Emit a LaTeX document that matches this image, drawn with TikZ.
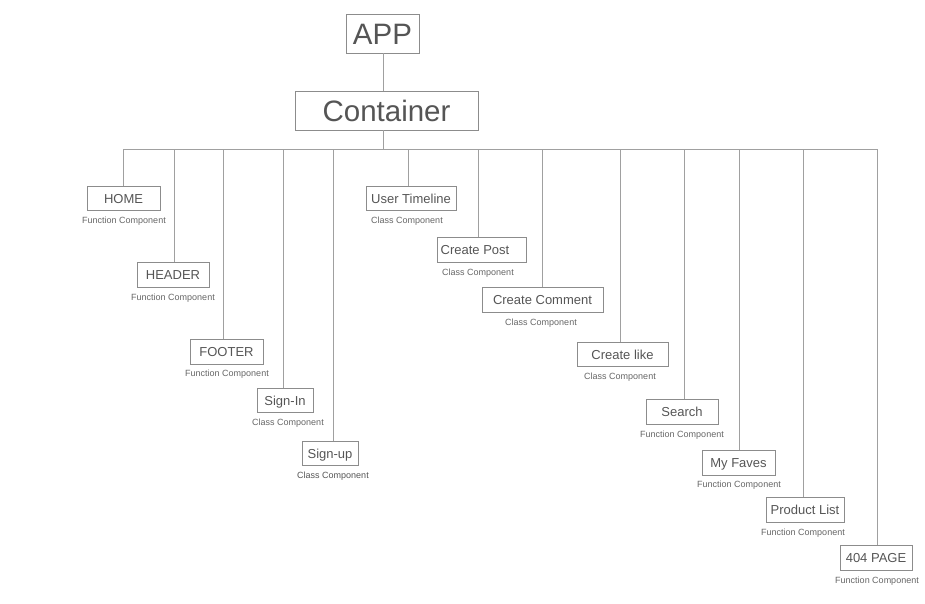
\documentclass[tikz,border=0pt]{standalone}
\usepackage{fontspec}
\setmainfont{Liberation Sans}
\definecolor{txt}{HTML}{555555}
\definecolor{txtb}{HTML}{666666}
\definecolor{boxc}{HTML}{8C8C8C}
\definecolor{linec}{HTML}{A0A0A0}
\begin{document}
\begin{tikzpicture}[x=1pt,y=-1pt,
  comp/.style={draw=boxc, line width=0.8pt, text=txt, font=\fontsize{13}{15}\selectfont, inner sep=0pt, minimum height=24.5pt, text height=9.4pt, text depth=0pt},
  big/.style={draw=boxc, line width=0.8pt, text=txt, font=\fontsize{29.5}{32}\selectfont, inner sep=0pt, minimum height=39pt, text height=21.2pt, text depth=0pt},
  lbl/.style={text=txtb, font=\fontsize{9}{10}\selectfont, inner sep=0pt},
  wire/.style={draw=linec, line width=0.9pt}]
\useasboundingbox (0,0) rectangle (925,604);

\node[big, minimum width=73pt] (app) at (382.5,33.5) {APP};
\node[big, minimum width=183pt] (container) at (386.5,110.5) {Container};
\coordinate (bus) at (383,149.5);

\node[comp, minimum width=73pt] (home) at (123.5,198.5) {HOME};
\node[comp, minimum width=72pt] (header) at (173,275) {HEADER};
\node[comp, minimum width=73pt] (footer) at (226.5,352) {FOOTER};
\node[comp, minimum width=56pt] (signin) at (285,400.5) {Sign-In};
\node[comp, minimum width=56pt] (signup) at (330,453.5) {Sign-up};
\node[comp, minimum width=90pt] (timeline) at (411,198.5) {User Timeline};
\node[comp, minimum width=89pt] (post) at (481.5,250) {Create Post\kern13pt};
\node[comp, minimum width=121pt] (comment) at (542.5,300) {Create Comment};
\node[comp, minimum width=91pt] (like) at (622.5,354.5) {Create like};
\node[comp, minimum width=72pt] (search) at (682,412) {Search};
\node[comp, minimum width=73pt] (faves) at (738.5,463) {My Faves};
\node[comp, minimum width=78pt] (plist) at (805,510) {Product List};
\node[comp, minimum width=72pt] (p404) at (876,558) {404 PAGE};

\node[lbl] (homel) at (124,221) {Function Component};
\node[lbl] (headerl) at (173,298) {Function Component};
\node[lbl] (footerl) at (227,374) {Function Component};
\node[lbl] (signinl) at (288,423) {Class Component};
\node[lbl, text=txt] (signupl) at (333,476) {Class Component};
\node[lbl] (timelinel) at (407,221) {Class Component};
\node[lbl] (postl) at (478,273) {Class Component};
\node[lbl] (commentl) at (541,323) {Class Component};
\node[lbl] (likel) at (620,377) {Class Component};
\node[lbl] (searchl) at (682,435) {Function Component};
\node[lbl] (favesl) at (739,485) {Function Component};
\node[lbl] (plistl) at (803,533) {Function Component};
\node[lbl] (p404l) at (877,581) {Function Component};

\draw[wire] (app.south -| bus) -- (container.north -| bus);
\draw[wire] (container.south -| bus) -- (bus);
\draw[wire] ([xshift=-0.5pt]home.north |- bus) -- ([xshift=1pt]p404.north |- bus);
\foreach \n/\s in {home/-0.5,header/1,footer/-3.5,signin/-2,signup/3,timeline/-3,post/-3.5,comment/-0.5,like/-2.5,search/2,faves/0.5,plist/-2,p404/1}
  \draw[wire] ([xshift=\s pt]\n.north) -- ([xshift=\s pt]\n.north |- bus);
\end{tikzpicture}
\end{document}
